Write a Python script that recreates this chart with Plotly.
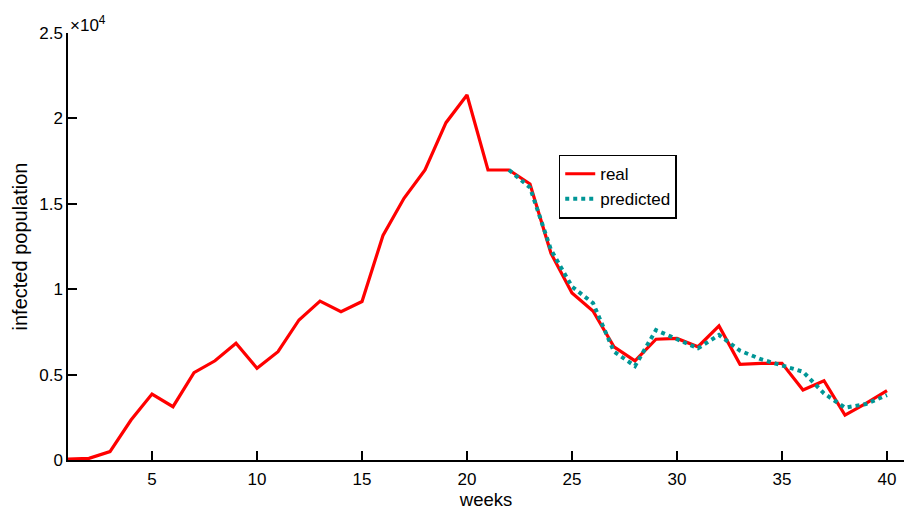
import plotly.graph_objects as go

# weekly counts of infected population
weeks = list(range(1, 41))
real = [50, 100, 490, 2340, 3860, 3120, 5110, 5810, 6830, 5370,
        6340, 8200, 9300, 8680, 9280, 13150, 15320, 16980, 19750, 21370,
        16980, 16980, 16160, 12100, 9780, 8720, 6630, 5800, 7070, 7120,
        6630, 7850, 5600, 5660, 5660, 4100, 4640, 2630, 3320, 4060]

pred_weeks = list(range(22, 41))
predicted = [16980, 15950, 12300, 10150, 9190, 6340, 5500, 7610, 7070, 6540,
             7320, 6400, 5900, 5560, 5170, 3900, 3060, 3280, 3800]

y_tick_vals = [0, 5000, 10000, 15000, 20000, 25000]
y_tick_text = ["0", "0.5", "1", "1.5", "2", "2.5"]
x_tick_vals = [5, 10, 15, 20, 25, 30, 35, 40]

font_family = "Liberation Sans, Arial, Helvetica, sans-serif"
tick_font = dict(family=font_family, size=17, color="black")

fig = go.Figure()
fig.add_trace(go.Scatter(
    x=weeks, y=real, mode="lines", name="real",
    line=dict(color="#FF0000", width=3.2),
))
fig.add_trace(go.Scatter(
    x=pred_weeks, y=predicted, mode="lines", name="predicted",
    line=dict(color="#009696", width=4, dash="4px,4px"),
))

fig.update_layout(
    width=904, height=519,
    margin=dict(l=68, r=0, t=33, b=59),
    paper_bgcolor="white", plot_bgcolor="white",
    font=dict(family=font_family, size=17, color="black"),
    showlegend=True,
    legend=dict(
        x=0.587, y=0.715, xanchor="left", yanchor="top",
        bgcolor="white", bordercolor="black", borderwidth=1.5,
        font=dict(size=17), itemwidth=30, tracegroupgap=0,
    ),
    xaxis=dict(
        range=[1, 40.81], showgrid=False, zeroline=False,
        showline=True, linecolor="black", linewidth=1.5,
        ticks="inside", ticklen=9, tickwidth=1.5, tickcolor="black",
        tickvals=x_tick_vals, ticklabelstandoff=3, tickfont=tick_font,
        title=dict(text="weeks", font=dict(size=18.5), standoff=2),
    ),
    yaxis=dict(
        range=[0, 25000], showgrid=False, zeroline=False,
        showline=True, linecolor="black", linewidth=1.5,
        ticks="inside", ticklen=9, tickwidth=1.5, tickcolor="black",
        tickvals=y_tick_vals, ticktext=y_tick_text, tickfont=tick_font,
        title=dict(text="infected population", font=dict(size=20), standoff=6),
    ),
)

fig.add_annotation(
    text="×10<sup>4</sup>", xref="paper", yref="paper",
    x=0.0, y=1.0, xanchor="left", yanchor="bottom",
    showarrow=False, font=dict(size=17), yshift=-4,
)

fig.write_html("out.html")
